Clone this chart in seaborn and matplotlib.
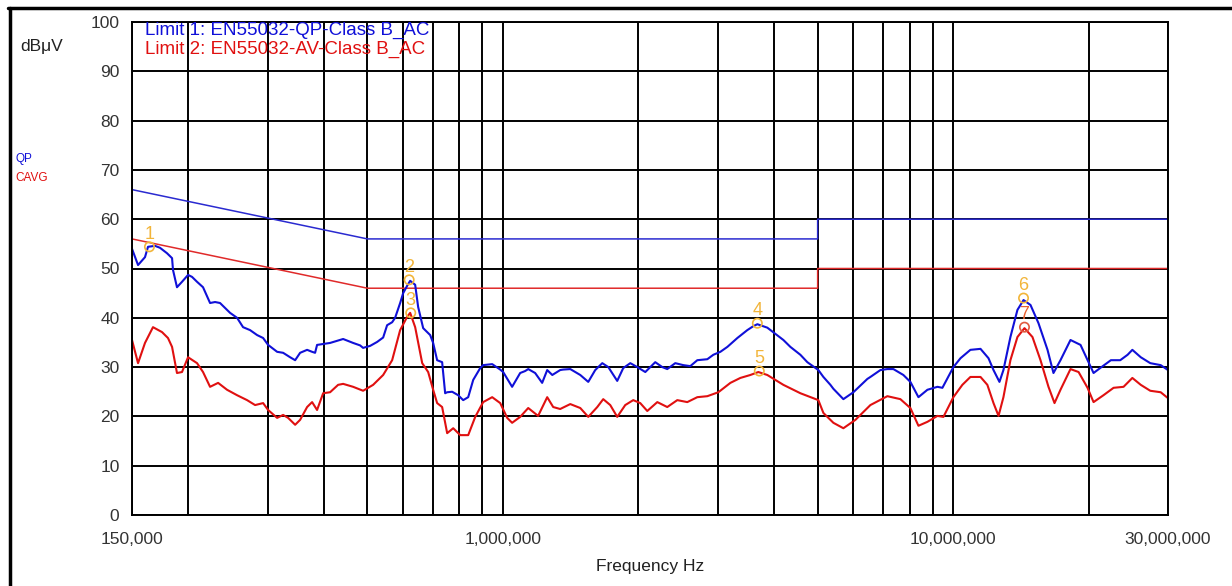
import numpy as np
import pandas as pd
import matplotlib
matplotlib.use('Agg')
import matplotlib.pyplot as plt
import seaborn as sns
from matplotlib.lines import Line2D

# frequencies in MHz, levels in dBuV
qp_freq = [0.150, 0.1547, 0.1603, 0.1628, 0.1687, 0.1731, 0.1794, 0.1841, 0.1850, 0.1888,
           0.1937, 0.1998, 0.2039, 0.2092, 0.2157, 0.2236, 0.2294, 0.2353, 0.2414, 0.2477,
           0.2567, 0.2647, 0.2744, 0.2844, 0.2933, 0.3009, 0.3151, 0.3249, 0.3367, 0.3455,
           0.3544, 0.3673, 0.3768, 0.3826, 0.3865, 0.4131, 0.4416, 0.4648, 0.4817, 0.4891,
           0.5069, 0.5254, 0.5419, 0.5530, 0.5674, 0.5761, 0.5911, 0.6003, 0.6127, 0.6222,
           0.6383, 0.6481, 0.6650, 0.6822, 0.6892, 0.6998, 0.7142, 0.7327, 0.7441, 0.7518,
           0.7713, 0.7953, 0.8160, 0.8372, 0.8589, 0.8902, 0.9038, 0.9464, 0.9861, 1.0011,
           1.048, 1.092, 1.120, 1.138, 1.179, 1.222, 1.254, 1.287, 1.340, 1.361,
           1.411, 1.485, 1.547, 1.603, 1.662, 1.714, 1.794, 1.850, 1.918, 1.988,
           2.071, 2.179, 2.259, 2.317, 2.414, 2.515, 2.607, 2.702, 2.844, 2.933,
           3.040, 3.151, 3.316, 3.489, 3.598, 3.673, 3.865, 4.196, 4.349, 4.577,
           4.743, 5.018, 5.149, 5.337, 5.419, 5.703, 6.002, 6.447, 6.548, 6.892,
           7.142, 7.365, 7.751, 8.034, 8.372, 8.765, 9.226, 9.464, 10.01, 10.38,
           10.92, 11.50, 11.98, 12.29, 12.67, 12.93, 13.40, 13.89, 14.33, 14.85,
           15.47, 16.20, 16.70, 17.31, 18.22, 19.18, 19.98, 20.5, 21.2, 22.4,
           23.5, 24.4, 25.0, 26.1, 27.4, 28.9, 30.0]
qp_level = [54.0, 50.7, 52.3, 54.4, 54.6, 54.2, 53.1, 52.1, 49.7, 46.2,
            47.3, 48.7, 48.3, 47.3, 46.2, 43.0, 43.2, 43.0, 42.0, 41.0,
            40.0, 38.1, 37.5, 36.5, 35.9, 34.5, 33.1, 32.9, 32.0, 31.4,
            32.9, 33.5, 33.1, 32.9, 34.5, 34.9, 35.7, 34.9, 34.4, 33.9,
            34.3, 35.1, 36.0, 38.5, 39.1, 40.0, 43.0, 45.0, 46.5, 47.5,
            46.7, 42.2, 37.9, 36.9, 36.5, 34.9, 31.4, 31.0, 24.7, 24.9,
            25.0, 24.3, 23.3, 23.9, 27.4, 29.8, 30.4, 30.6, 29.5, 29.0,
            26.0, 28.8, 29.2, 29.6, 28.8, 26.8, 29.4, 28.4, 29.4, 29.5,
            29.6, 28.4, 27.0, 29.4, 30.8, 30.0, 27.2, 29.8, 30.8, 30.0,
            29.0, 31.0, 30.0, 29.6, 30.8, 30.4, 30.2, 31.4, 31.6, 32.5,
            33.1, 34.1, 35.9, 37.5, 38.3, 38.7, 38.0, 35.5, 34.1, 32.5,
            31.0, 29.4, 28.0, 26.4, 25.6, 23.5, 24.9, 27.6, 28.0, 29.4,
            29.6, 29.6, 28.4, 27.0, 23.9, 25.4, 26.0, 25.8, 30.0, 31.8,
            33.5, 33.7, 31.8, 29.4, 27.0, 29.4, 36.1, 41.6, 43.6, 42.6,
            38.9, 33.5, 28.8, 31.4, 35.5, 34.5, 31.0, 28.8, 29.8, 31.4,
            31.4, 32.5, 33.5, 32.0, 30.8, 30.4, 29.4]

avg_freq = [0.150, 0.1547, 0.1603, 0.1670, 0.1749, 0.1803, 0.1841, 0.1888, 0.1937, 0.1998,
            0.2092, 0.2157, 0.2236, 0.2330, 0.2439, 0.2567, 0.2702, 0.2815, 0.2933, 0.3009,
            0.3151, 0.3249, 0.3333, 0.3455, 0.3544, 0.3673, 0.3768, 0.3865, 0.3987, 0.4131,
            0.4304, 0.4416, 0.4648, 0.4891, 0.5148, 0.5419, 0.5674, 0.5911, 0.6127, 0.6222,
            0.6383, 0.6617, 0.6822, 0.6998, 0.7142, 0.7327, 0.7518, 0.7754, 0.8037, 0.8372,
            0.8678, 0.9038, 0.9464, 0.9861, 1.022, 1.048, 1.092, 1.138, 1.197, 1.254,
            1.293, 1.340, 1.411, 1.485, 1.547, 1.620, 1.670, 1.731, 1.794, 1.869,
            1.947, 2.018, 2.092, 2.202, 2.317, 2.439, 2.567, 2.702, 2.844, 3.009,
            3.200, 3.367, 3.544, 3.692, 3.865, 4.196, 4.577, 5.018, 5.149, 5.419,
            5.703, 6.066, 6.548, 7.142, 7.633, 8.034, 8.372, 8.765, 9.226, 9.513,
            10.01, 10.48, 10.92, 11.50, 11.91, 12.29, 12.61, 12.93, 13.40, 13.89,
            14.40, 15.00, 15.63, 16.28, 16.79, 17.31, 18.22, 18.99, 19.88, 20.5,
            21.57, 22.71, 23.9, 25.0, 26.1, 27.4, 28.9, 30.0]
avg_level = [35.5, 30.8, 34.9, 38.1, 37.1, 35.9, 34.1, 28.8, 29.0, 32.0,
             30.8, 29.0, 26.0, 26.8, 25.4, 24.3, 23.3, 22.3, 22.7, 21.3,
             19.7, 20.3, 19.7, 18.3, 19.3, 21.9, 22.9, 21.3, 24.7, 24.9,
             26.4, 26.6, 26.0, 25.2, 26.4, 28.4, 31.4, 37.5, 40.2, 41.0,
             38.1, 30.8, 29.0, 25.4, 22.7, 21.9, 16.6, 17.6, 16.2, 16.2,
             19.9, 22.9, 23.9, 22.7, 19.7, 18.7, 19.9, 21.7, 20.1, 23.9,
             21.9, 21.5, 22.5, 21.7, 19.9, 21.9, 23.5, 22.3, 19.9, 22.3,
             23.3, 22.7, 21.1, 22.9, 21.9, 23.3, 22.9, 23.9, 24.1, 24.9,
             26.8, 27.8, 28.4, 29.0, 28.4, 26.4, 24.7, 23.3, 20.7, 18.7,
             17.6, 19.3, 22.3, 24.1, 23.5, 21.7, 18.1, 18.9, 20.1, 19.9,
             23.9, 26.4, 28.0, 28.0, 26.4, 22.7, 20.1, 23.9, 31.4, 36.1,
             37.9, 36.1, 31.4, 26.0, 22.7, 25.4, 29.6, 29.0, 25.8, 22.9,
             24.3, 25.8, 26.0, 27.8, 26.4, 25.2, 24.9, 23.7]

# EN55032 class B limits
limit_freq = [0.15, 0.5, 0.5, 5.0, 5.0, 30.0]
qp_limit = [66, 56, 56, 56, 60, 60]
av_limit = [56, 46, 46, 46, 50, 50]

marker_id = ['1', '2', '3', '4', '5', '6', '7']
marker_freq = [0.164, 0.619, 0.624, 3.673, 3.71, 14.33, 14.40]
marker_level = [54.4, 47.7, 41.0, 38.9, 29.2, 44.0, 38.1]

grid_freq = [0.15, 0.2, 0.3, 0.4, 0.5, 0.6, 0.7, 0.8, 0.9, 1, 2, 3, 4, 5, 6, 7, 8, 9, 10, 20, 30]
tick_text = {0.15: '150,000', 1: '1,000,000', 10: '10,000,000', 30: '30,000,000'}
y_ticks = list(range(0, 101, 10))

BLUE = '#1010d8'
RED = '#e01010'
GOLD = '#f2b53a'

sns.set_theme(style='white')
plt.rcParams['font.family'] = ['Liberation Sans', 'DejaVu Sans']

fig = plt.figure(figsize=(12.32, 5.86), dpi=100)
ax = fig.add_axes([132 / 1232, 71 / 586, 1036 / 1232, 493 / 586])

sns.lineplot(x=limit_freq, y=qp_limit, sort=False, estimator=None, color='#2a2ad0', lw=1.1, ax=ax)
sns.lineplot(x=limit_freq, y=av_limit, sort=False, estimator=None, color='#e02a2a', lw=1.1, ax=ax)
sns.lineplot(x=qp_freq, y=qp_level, sort=False, estimator=None, color=BLUE, lw=1.5, ax=ax)
sns.lineplot(x=avg_freq, y=avg_level, sort=False, estimator=None, color=RED, lw=1.5, ax=ax)

ax.scatter(marker_freq, marker_level, s=45, facecolors='none',
           edgecolors=[GOLD] * 6 + ['#e05a40'], linewidths=1.2, zorder=5)
for mid, mf, ml in zip(marker_id, marker_freq, marker_level):
    ax.annotate(mid, (mf, ml), xytext=(0, 9), textcoords='offset points',
                ha='center', va='center', fontsize=13,
                color='#e86030' if mid == '7' else GOLD)

ax.set_xscale('log')
ax.set_xlim(0.15, 30)
ax.set_ylim(0, 100)
ax.set_xticks(grid_freq)
ax.set_xticklabels([tick_text.get(f, '') for f in grid_freq])
ax.minorticks_off()
ax.set_yticks(y_ticks)
ax.tick_params(axis='both', length=0, labelsize=12.5, colors='#333333')
ax.tick_params(axis='x', pad=12)
ax.tick_params(axis='y', pad=9)
ax.grid(True, color='black', lw=1.4)
ax.set_axisbelow(True)
for s in ax.spines.values():
    s.set_color('black')
    s.set_linewidth(1.4)
ax.set_xlabel('Frequency Hz', fontsize=12.5, color='#222222', labelpad=9)
ax.set_ylabel('')

ax.text(13 / 1036, 1 - 8 / 493, 'Limit 1: EN55032-QP-Class B_AC', transform=ax.transAxes,
        color=BLUE, fontsize=13.5, va='center', ha='left')
ax.text(13 / 1036, 1 - 27 / 493, 'Limit 2: EN55032-AV-Class B_AC', transform=ax.transAxes,
        color=RED, fontsize=13.5, va='center', ha='left')

fig.text(20 / 1232, 1 - 46 / 586, 'dB\u03bcV', fontsize=12.5, color='#222222', va='center', ha='left')
fig.text(15 / 1232, 1 - 159 / 586, 'QP', fontsize=8.5, color=BLUE, va='center', ha='left')
fig.text(15 / 1232, 1 - 178 / 586, 'CAVG', fontsize=8.5, color=RED, va='center', ha='left')

# outer frame (top and left edges)
fig.add_artist(Line2D([8 / 1232, 1], [1 - 8 / 586, 1 - 8 / 586], color='black', lw=2.5,
                      transform=fig.transFigure))
fig.add_artist(Line2D([10 / 1232, 10 / 1232], [0, 1 - 8 / 586], color='black', lw=2.5,
                      transform=fig.transFigure))

plt.savefig('out.png', dpi=100)
